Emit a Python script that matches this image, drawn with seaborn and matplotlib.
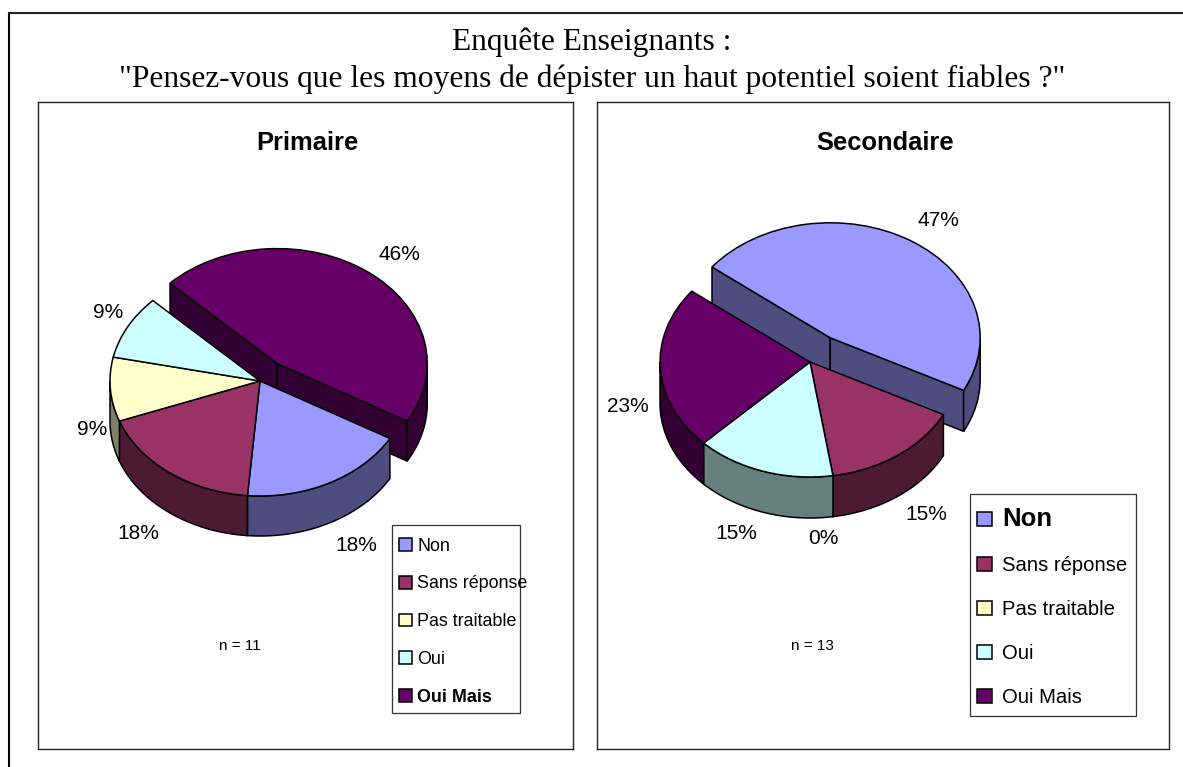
import numpy as np
import matplotlib
matplotlib.use("Agg")
import matplotlib.pyplot as plt
from matplotlib.lines import Line2D
from matplotlib.patches import Patch, Rectangle
from matplotlib.legend_handler import HandlerPatch
import seaborn as sns

categories = ["Non", "Sans réponse", "Pas traitable", "Oui", "Oui Mais"]
primaire_values = [18, 18, 9, 9, 46]
secondaire_values = [47, 15, 0, 15, 23]
top_colors = ["#9999FF", "#993366", "#FFFFCC", "#CCFFFF", "#660066"]
wall_colors = ["#4D4D80", "#4D1A33", "#808066", "#668080", "#330033"]
title_lines = ["Enquête Enseignants :",
               '"Pensez-vous que les moyens de dépister un haut potentiel soient fiables ?"']

W, H = 1183, 767
SQUASH = 115 / 150
RADIUS = 150

sns.set_theme(style="white")
plt.rcParams["font.family"] = ["Liberation Sans", "DejaVu Sans"]
palette = sns.color_palette(top_colors)
wall_palette = sns.color_palette(wall_colors)

fig = plt.figure(figsize=(W / 100, H / 100), dpi=100)
fig.patch.set_facecolor("white")


def shifted(shift_px):
    shift = shift_px * 72 / 100

    def make(legend, orig_handle, xdescent, ydescent, width, height, fontsize):
        return Rectangle((-xdescent - shift, -ydescent), width, height)
    return HandlerPatch(patch_func=make)


def chart(box, values, start, centre, depth, explode_idx, explode, title, title_xy,
          n_text, n_xy, label_xy, leg_box, leg_size, leg_spacing, leg_pad,
          leg_textpad, leg_shift, leg_drop, leg_styles):
    x0, y0, x1, y1 = box
    ax = fig.add_axes([x0 / W, 1 - y1 / H, (x1 - x0) / W, (y1 - y0) / H])
    py = lambda y: (H - y) / SQUASH
    cx, cy = centre[0], py(centre[1])
    d = depth / SQUASH

    offsets = [explode * RADIUS if i == explode_idx else 0 for i in range(len(values))]
    wedges, _ = ax.pie(values, colors=palette, startangle=90 - start, counterclock=False,
                       center=(cx, cy), radius=RADIUS, explode=offsets,
                       wedgeprops=dict(edgecolor="black", linewidth=1.1))
    ax.set_aspect("auto")
    ax.set_xlim(x0, x1)
    ax.set_ylim(py(y1), py(y0))
    ax.set_xticks([])
    ax.set_yticks([])
    ax.set_frame_on(True)
    for s in ax.spines.values():
        s.set_visible(True)
        s.set_color("#222222")
        s.set_linewidth(1.0)

    total = float(sum(values))
    a = start
    for i, v in enumerate(values):
        b = a + 360 * v / total
        mid = np.radians((a + b) / 2)
        ox = cx + offsets[i] * np.sin(mid)
        oy = cy + offsets[i] * np.cos(mid)
        pt = lambda t, r=RADIUS: (ox + r * np.sin(np.radians(t)), oy + r * np.cos(np.radians(t)))
        z = 1 if i == explode_idx else 3
        wedges[i].set_zorder(2 if i == explode_idx else 4)
        if i == explode_idx:
            for t in (a, b):
                px, pq = pt(t)
                ax.fill([ox, px, px, ox], [oy, pq, pq - d, oy - d],
                        facecolor=wall_palette[i], edgecolor="black", linewidth=1.1, zorder=z)
        for lo, hi in ((90, 270), (450, 630)):
            s, e = max(a, lo), min(b, hi)
            if e > s:
                ts = np.linspace(s, e, 80)
                xs, ys = pt(ts)
                ax.fill(np.r_[xs, xs[::-1]], np.r_[ys, ys[::-1] - d],
                        facecolor=wall_palette[i], edgecolor="black", linewidth=1.1, zorder=z)
        a = b

    ax.text(title_xy[0], py(title_xy[1]), title, ha="center", va="center",
            fontsize=18.4, fontweight="bold", color="black", zorder=6)
    ax.text(n_xy[0], py(n_xy[1]), n_text, ha="center", va="center", fontsize=11,
            color="black", zorder=6)
    for v, (lx, ly) in zip(values, label_xy):
        ax.text(lx, py(ly), f"{v}%", ha="center", va="center", fontsize=15,
                color="black", zorder=6)

    lx0, ly0, lx1, ly1 = leg_box
    ax.add_patch(Rectangle((lx0, py(ly1)), lx1 - lx0, py(ly0) - py(ly1), facecolor="white",
                           edgecolor="#333333", linewidth=0.9, zorder=6.5))
    handles = [Patch(facecolor=c, edgecolor="black", linewidth=1.1) for c in palette]
    leg = ax.legend(handles, categories, loc="lower left",
                    bbox_to_anchor=(lx0, py(ly1 + leg_drop), lx1 - lx0, py(ly0) - py(ly1)),
                    bbox_transform=ax.transData, mode="expand", ncol=1,
                    fontsize=leg_size, labelspacing=leg_spacing, borderpad=leg_pad,
                    borderaxespad=0, handlelength=0.72, handleheight=0.72,
                    handletextpad=leg_textpad, frameon=False,
                    handler_map={Patch: shifted(leg_shift)})
    leg.set_zorder(7)
    for t, (size, weight) in zip(leg.get_texts(), leg_styles):
        t.set_fontsize(size)
        t.set_fontweight(weight)
        t.set_color("black")
    return ax


chart((38, 102, 573, 749), primaire_values, 120, (260, 381), 40, 4, 0.19,
      "Primaire", (307, 143.5), "n = 11", (240, 646),
      [(356, 545.5), (138, 533.5), (92, 429.5), (108, 312.5), (399, 254.5)],
      (392, 525, 520, 713), 12.9, 1.16, 0.57, 0.11, 3, 3,
      [(12.9, "normal")] * 4 + [(12.9, "bold")])

chart((597, 102, 1169, 749), secondaire_values, 308, (810, 362), 41, 0, 0.25,
      "Secondaire", (885, 143.5), "n = 13", (812, 646),
      [(938, 220.5), (926, 514.5), (823, 538.5), (736, 533.5), (628, 406.5)],
      (970, 494, 1136, 716), 14.6, 1.23, 0.55, 0.3, 4, 2,
      [(18.5, "bold")] + [(14.6, "normal")] * 4)

for y, line in zip((42.5, 79), title_lines):
    fig.text(592 / W, 1 - y / H, line, ha="center", va="center",
             family=["Liberation Serif"], fontsize=22.7, color="black")

fig.add_artist(Line2D([8.5 / W, 8.5 / W], [0, 1 - 13 / H], color="black", lw=1.5))
fig.add_artist(Line2D([8.5 / W, 1], [1 - 13 / H, 1 - 13 / H], color="#222222", lw=1.5))

fig.savefig("out.png", dpi=100, facecolor="white")
